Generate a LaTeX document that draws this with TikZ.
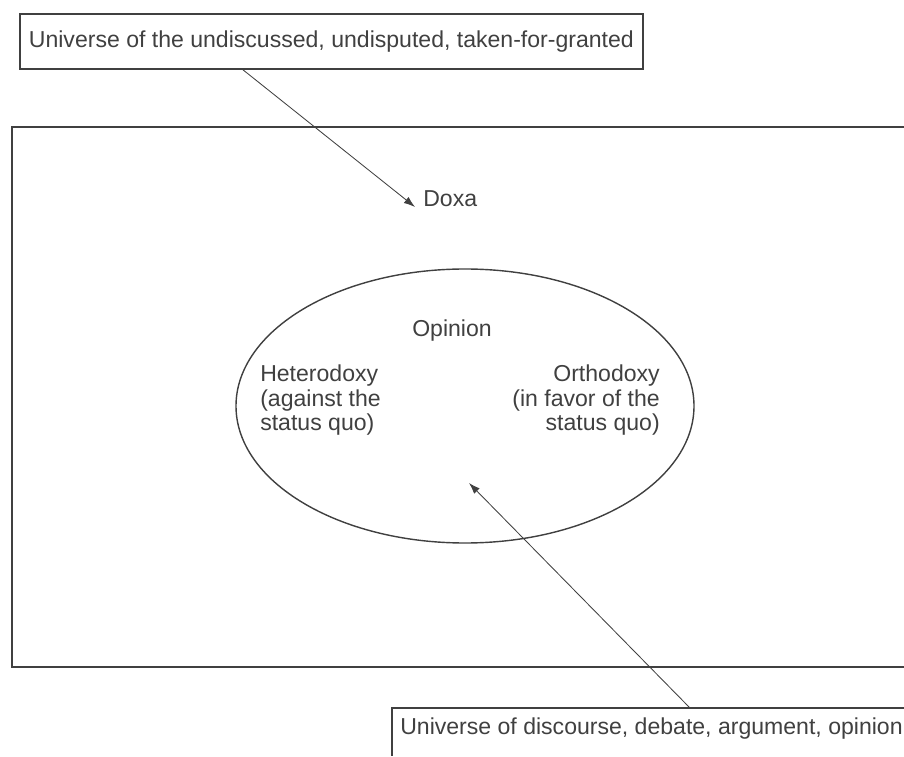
\documentclass[tikz,border=0pt]{standalone}
\usepackage{fontspec}
\setmainfont{Liberation Sans}
\usetikzlibrary{arrows.meta}
\definecolor{ink}{gray}{0.25}

\begin{document}
\begin{tikzpicture}[
		every node/.style={text=ink, font=\fontsize{16.4}{17.1}\selectfont},
		frame/.style={draw=ink, line width=1.3pt},
		pointer/.style={draw=ink, line width=0.6pt, -{Latex[length=8pt,width=5.5pt]}}]
				\useasboundingbox (0,0) rectangle (22.6,18.9);
				% the doxa field, running off to the right
				\draw[frame] (22.6,15.725) -- (0.3,15.725) -- (0.3,2.225) -- (22.6,2.225);
				\node[frame, anchor=north west, inner xsep=0.225cm, minimum height=1.375cm] (taken) at (0.475,18.575) {Universe of the undiscussed, undisputed, taken-for-granted};
				\node[anchor=base west, inner sep=0pt] (doxa) at (10.575,13.725) {Doxa};
				\draw[pointer] ([xshift=5.6cm]taken.south west) -- ([xshift=-0.2cm]doxa.base west);
				% field of opinion
				\draw[draw=ink, line width=1pt] (11.625,8.75) ellipse [x radius=5.725cm, y radius=3.425cm];
				\node[anchor=base, inner sep=0pt] (opinion) at (11.3,10.475) {Opinion};
				\node[anchor=north west, align=left, inner sep=0pt] (hetero) at (6.5,9.775) {Heterodoxy\\(against the\\status quo)};
				\node[anchor=north east, align=right, inner sep=0pt] (ortho) at (16.5,9.775) {Orthodoxy\\(in favor of the\\status quo)};
				\coordinate (fieldtip) at (11.725,6.825);
				% discourse box, cut by the page edge
				\draw[frame] (22.6,1.2) -- (9.8,1.2) -- (9.8,0);
				\node[anchor=base west, inner sep=0pt] (discourse) at (10.0,0.55) {Universe of discourse, debate, argument, opinion};
				\coordinate (discoursetop) at (17.25,1.2);
				\draw[pointer] (discoursetop) -- (fieldtip);
			\end{tikzpicture}
\end{document}
